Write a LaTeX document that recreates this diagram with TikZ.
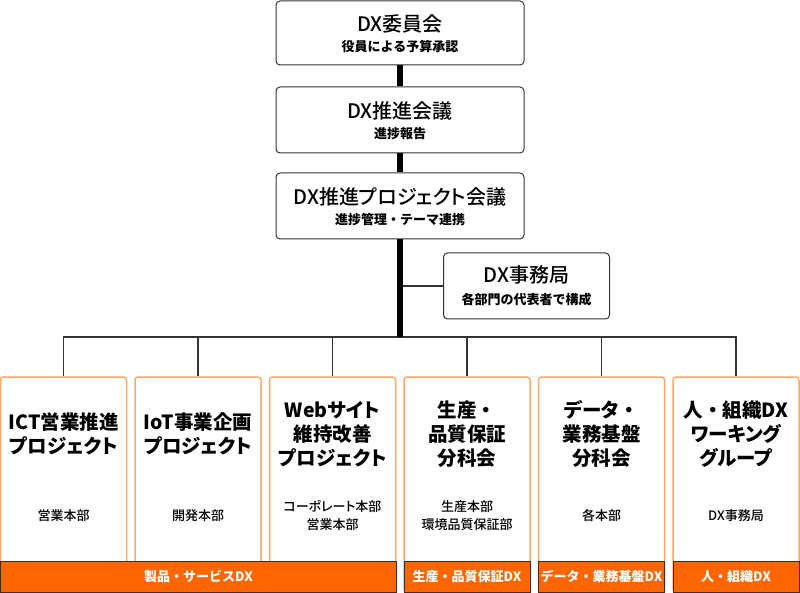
\documentclass[tikz,border=0pt]{standalone}
\usepackage{fontspec}
\setmainfont{Noto Sans CJK JP}
\newfontfamily\paltfont{Noto Sans CJK JP}[RawFeature=+palt]
\newfontfamily\medfont{Noto Sans CJK JP Medium}[RawFeature=+palt]
\newcommand{\fulldot}{{\addfontfeature{RawFeature=-palt}・}}
\usetikzlibrary{positioning}

\definecolor{bandorange}{HTML}{FF6600}
\definecolor{boxorange}{HTML}{FFA86C}
\definecolor{linegray}{HTML}{333333}
\definecolor{bandedge}{HTML}{4A2A12}

\begin{document}
\begin{tikzpicture}[x=1pt, y=-1pt,
  topbox/.style={draw=linegray, line width=1pt, rounded corners=4pt, fill=white,
    minimum width=248pt, minimum height=66pt, inner sep=0pt},
  ttl/.style={font=\medfont\fontsize{20}{24}\selectfont, inner sep=0pt},
  sub/.style={font=\fontsize{13}{16}\selectfont\bfseries, inner sep=0pt},
  projbox/.style={draw=boxorange, line width=1.5pt, rounded corners=3pt, fill=white,
    minimum width=126pt, minimum height=215pt, inner sep=0pt},
  projttl/.style={font=\paltfont\fontsize{19.5}{24}\selectfont\bfseries, align=center, inner sep=0pt},
  projsub/.style={font=\medfont\fontsize{13}{17.5}\selectfont, align=center, inner sep=0pt},
  band/.style={draw=bandedge, line width=1pt, fill=bandorange, text=white,
    font=\fontsize{13}{16}\selectfont\bfseries, minimum width=126pt, minimum height=31.5pt, inner sep=0pt},
  spine/.style={line width=6.5pt, black},
  link/.style={line width=1.3pt, linegray}
]
  \useasboundingbox (0,0) rectangle (800,593);
  \fill[white] (0,0) rectangle (800,593);

  % Nodes
  \node[topbox, minimum height=64pt] (iinkai) at (400,33) {};
  \node[ttl] (iinkai-t) at (400,24) {DX委員会};
  \node[sub] (iinkai-s) at (400,47) {役員による予算承認};

  \node[topbox] (suishin) at (400,120) {};
  \node[ttl] (suishin-t) at (400,111) {DX推進会議};
  \node[sub] (suishin-s) at (400,134) {進捗報告};

  \node[topbox] (pjkaigi) at (400,206) {};
  \node[ttl] (pjkaigi-t) at (400,197) {DX推進プロジェクト会議};
  \node[sub] (pjkaigi-s) at (400,220) {進捗管理・テーマ連携};

  \node[topbox, minimum width=166pt] (jimu) at (526.5,286) {};
  \node[ttl] (jimu-t) at (526.5,275) {DX事務局};
  \node[sub] (jimu-s) at (526.5,300) {各部門の代表者で構成};

  \node[projbox] (ict) at (63.5,484.5) {};
  \node[projttl] (ict-t) at (63.5,434) {ICT営業推進\\プロジェクト};
  \node[projsub] (ict-s) at (63.5,515.5) {営業本部};

  \node[projbox] (iot) at (198,484.5) {};
  \node[projttl] (iot-t) at (198,434) {IoT事業企画\\プロジェクト};
  \node[projsub] (iot-s) at (198,515.5) {開発本部};

  \node[projbox] (web) at (332.5,484.5) {};
  \node[projttl] (web-t) at (332.5,434) {Webサイト\\維持改善\\プロジェクト};
  \node[projsub] (web-s) at (332.5,515.5) {コーポレート本部\\営業本部};

  \node[projbox] (seisan) at (467,484.5) {};
  \node[projttl] (seisan-t) at (467,434) {生産\fulldot\\品質保証\\分科会};
  \node[projsub] (seisan-s) at (467,515.5) {生産本部\\環境品質保証部};

  \node[projbox] (data) at (601.5,484.5) {};
  \node[projttl] (data-t) at (601.5,434) {データ\fulldot\\業務基盤\\分科会};
  \node[projsub] (data-s) at (601.5,515.5) {各本部};

  \node[projbox] (hito) at (736,484.5) {};
  \node[projttl] (hito-t) at (736,434) {人\fulldot 組織DX\\ワーキング\\グループ};
  \node[projsub] (hito-s) at (736,515.5) {DX事務局};

  \node[band, minimum width=396pt] (seihin) at (198.5,576.75) {製品・サービスDX};
  \node[band] (hinshitsu) at (467,576.75) {生産・品質保証DX};
  \node[band] (kiban) at (601.5,576.75) {データ・業務基盤DX};
  \node[band] (soshiki) at (736,576.75) {人・組織DX};

  \coordinate (bus) at (400,337);
  \coordinate (jimu-in) at (jimu.west -| bus);

  % Edges
  \draw[spine] (iinkai) -- (suishin);
  \draw[spine] (suishin) -- (pjkaigi);
  \draw[link] (ict) |- (bus) -| (hito);
  \foreach \p in {iot, web, seisan, data}
    \draw[link] (\p) -- (\p |- bus);
  \draw[link] (jimu) -- (jimu-in);
  \draw[spine] (pjkaigi) -- (bus);

\end{tikzpicture}
\end{document}
